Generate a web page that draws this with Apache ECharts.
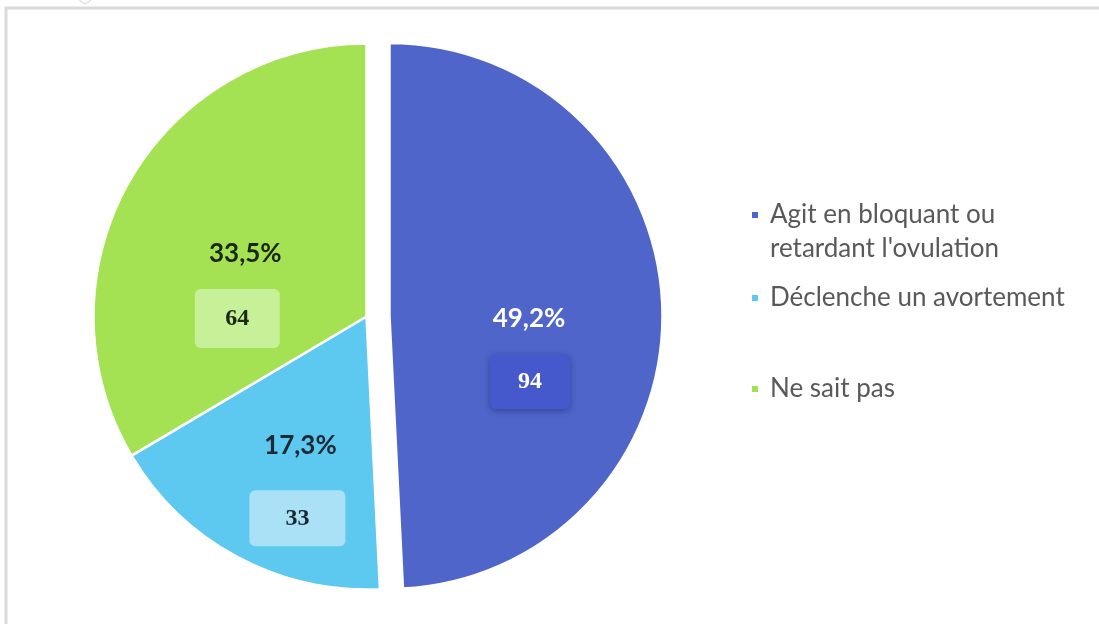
<!DOCTYPE html>
<html>
<head>
<meta charset="utf-8">
<script src="https://cdn.jsdelivr.net/npm/echarts@6/dist/echarts.min.js"></script>
<style>
  html, body { margin: 0; padding: 0; background: #ffffff; }
  #chart { width: 1099px; height: 624px; }
</style>
</head>
<body>
<div id="chart"></div>
<script>
// Survey answers and their counts
const categories = ["Agit en bloquant ou\nretardant l'ovulation", "Déclenche un avortement", "Ne sait pas"];
const counts = [94, 33, 64];
const sliceColors = ['#4f65c9', '#5dc8f0', '#a5e253'];

// Per-slice label look: percentage colour, value box fill/text, box size and sideways nudge
const labelLooks = [
  { pct: '#ffffff', boxBg: '#4659cc', boxText: '#ffffff', w: 80, h: 55, gap: 63, nudge: 1, shadow: 'rgba(20,30,90,0.45)' },
  { pct: '#1d2a33', boxBg: '#aae1f7', boxText: '#1a2630', w: 96, h: 56, gap: 73, nudge: -3, shadow: null },
  { pct: '#1a2612', boxBg: '#c7f199', boxText: '#1c2a12', w: 85, h: 59, gap: 65, nudge: -8, shadow: null }
];

const pieData = categories.map((name, i) => {
  const look = labelLooks[i];
  const pLine = 2 * (look.gap - look.h / 2);
  return {
    name: name,
    value: counts[i],
    selected: i === 0,
    itemStyle: { color: sliceColors[i] },
    label: {
      formatter: (p) => {
        const pct = p.percent.toFixed(1).replace('.', ',');
        const sp = '{sp| }';
        const box = '{v|' + p.value + '}';
        const lastLine = look.nudge < 0 ? box + sp : sp + box;
        return '{b| }\n{p|' + pct + '%}\n' + lastLine;
      },
      rich: {
        b: { lineHeight: look.h + 12, height: look.h + 12, fontSize: 10 },
        p: {
          fontFamily: 'Lato', fontWeight: 'bold', fontSize: 26,
          color: look.pct, lineHeight: pLine, height: pLine
        },
        sp: { width: Math.abs(look.nudge) * 2, fontSize: 10 },
        v: {
          fontFamily: 'Liberation Serif', fontWeight: 'bold', fontSize: 24,
          color: look.boxText, backgroundColor: look.boxBg,
          width: look.w, height: look.h, lineHeight: look.h, align: 'center',
          borderRadius: 6,
          shadowColor: look.shadow || 'transparent',
          shadowBlur: look.shadow ? 6 : 0, shadowOffsetY: look.shadow ? 2 : 0
        }
      }
    }
  };
});

// One legend block per answer so each row sits at its own height
const legendTops = [164, 281, 372];
const legends = categories.map((name, i) => ({
  data: [name],
  orient: 'vertical',
  left: 750,
  top: legendTops[i],
  padding: 0,
  selectedMode: false,
  icon: 'rect',
  itemWidth: 8,
  itemHeight: 8,
  formatter: (n) => (n.indexOf('\n') >= 0 ? '\n' + n : n),
  textStyle: {
    fontFamily: 'Lato', fontSize: 26, color: '#595959',
    lineHeight: 34, padding: [0, 0, 0, 6]
  }
}));

const chart = echarts.init(document.getElementById('chart'), null, { renderer: 'canvas' });
chart.setOption({
  animation: false,
  backgroundColor: '#ffffff',
  graphic: [
    {
      type: 'rect', z: -1, silent: true,
      shape: { x: 6, y: 8, width: 1200, height: 700 },
      style: { fill: 'none', stroke: '#dadada', lineWidth: 3 }
    },
    {
      type: 'polyline', z: -1, silent: true,
      shape: { points: [[79, 0], [85, 4], [91, 0]] },
      style: { fill: 'none', stroke: '#e2e2e2', lineWidth: 1.5 }
    }
  ],
  legend: legends,
  series: [{
    type: 'pie',
    center: [366.5, 316.5],
    radius: 273,
    startAngle: 90,
    clockwise: true,
    selectedMode: 'single',
    selectedOffset: 23,
    avoidLabelOverlap: false,
    labelLayout: { hideOverlap: false },
    emphasis: { scale: false, disabled: true },
    itemStyle: { borderColor: '#ffffff', borderWidth: 2.5 },
    label: { show: true, position: 'inside', minMargin: 0 },
    labelLine: { show: false },
    data: pieData
  }]
});
</script>
</body>
</html>
